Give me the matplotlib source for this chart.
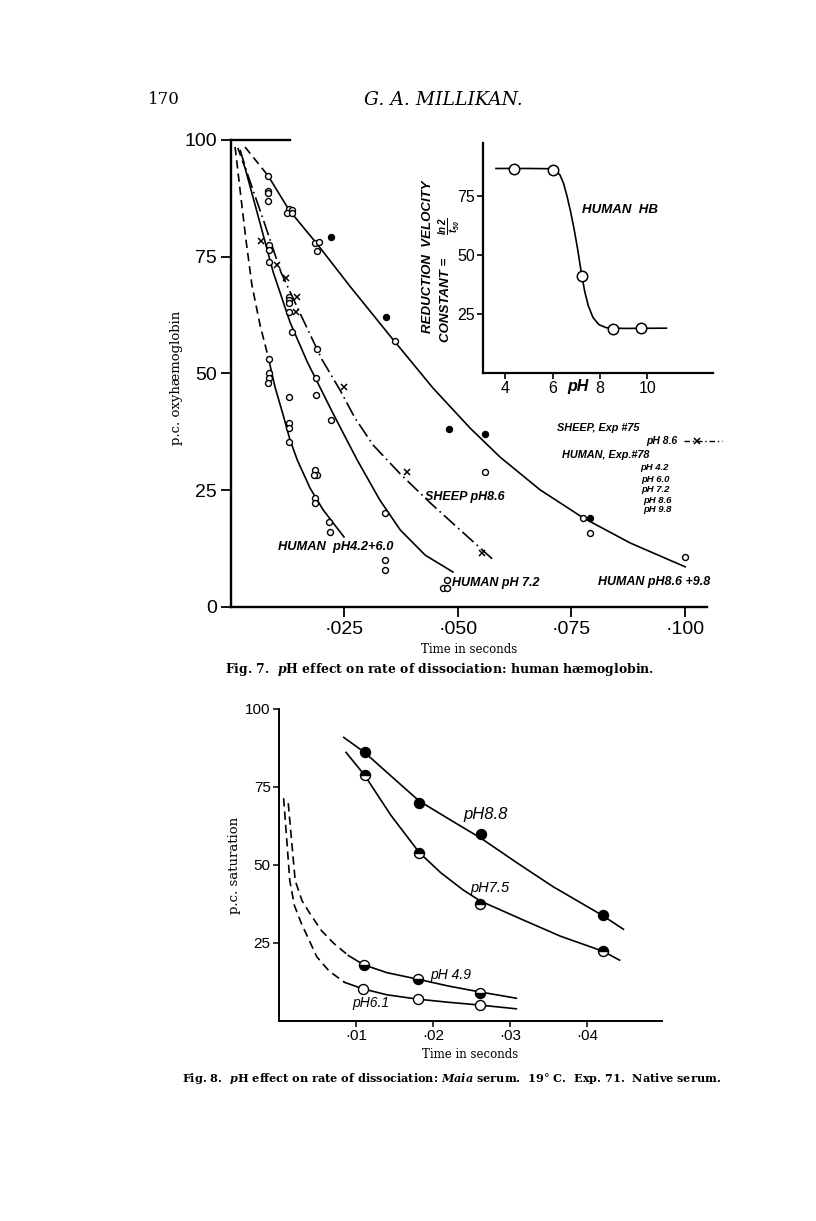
import matplotlib
matplotlib.use("Agg")
import matplotlib.pyplot as plt
from matplotlib.lines import Line2D

plt.rcParams["mathtext.fontset"] = "custom"
plt.rcParams["mathtext.it"] = "DejaVu Serif:italic:bold"
plt.rcParams["mathtext.rm"] = "DejaVu Serif:bold"
plt.rcParams["mathtext.bf"] = "DejaVu Serif:bold"
plt.rcParams["mathtext.sf"] = "Liberation Sans:italic:bold"

W, H = 816, 1221
fig = plt.figure(figsize=(W/100, H/100), dpi=100)
fig.patch.set_facecolor("white")

def P(px, py):
    return px / W, 1 - py / H

# ---------------- Fig. 7 data ----------------
x_ticks7 = [0.025, 0.050, 0.075, 0.100]
x_labels7 = ["·025", "·050", "·075", "·100"]
y_ticks7 = [0, 25, 50, 75, 100]
y_labels7 = ["0", "25", "50", "75", "100"]

# observed points
h42_t = [0.0084, 0.0084, 0.0084, 0.0082, 0.0128, 0.0128, 0.0128, 0.0128, 0.0185, 0.0190, 0.0183, 0.0185, 0.0185, 0.0216, 0.0218]
h42_y = [53.1, 50.1, 49.0, 48.0, 45.0, 39.4, 38.3, 35.3, 29.3, 28.3, 28.3, 23.3, 22.3, 18.2, 16.1]

h72_t = [0.0084, 0.0084, 0.0084, 0.0128, 0.0128, 0.0128, 0.0128, 0.0134, 0.0190, 0.0187, 0.0187, 0.0220, 0.0340, 0.0340, 0.0340, 0.0476, 0.0467, 0.0476]
h72_y = [77.5, 76.4, 73.9, 66.4, 65.7, 65.1, 63.2, 58.9, 55.2, 49.0, 45.4, 40.0, 20.1, 10.1, 7.9, 5.8, 4.1, 4.1]

h86_t = [0.0082, 0.0082, 0.0082, 0.0082, 0.0128, 0.0134, 0.0123, 0.0134, 0.0185, 0.0194, 0.0190, 0.0362, 0.0560, 0.0776, 0.0791, 0.1001]
h86_y = [92.3, 89.1, 88.7, 87.0, 85.2, 85.0, 84.4, 84.4, 77.9, 78.2, 76.2, 57.0, 28.9, 19.1, 15.8, 10.7]

h98_t = [0.0220, 0.0342, 0.0481, 0.0560, 0.0791]
h98_y = [79.2, 62.1, 38.1, 37.0, 19.1]

sheep_t = [0.0066, 0.0101, 0.0121, 0.0146, 0.0143, 0.0249, 0.0388, 0.0553]
sheep_y = [78.4, 73.2, 70.4, 66.4, 63.2, 47.1, 28.9, 11.6]

# hand-drawn curves
c1_dash_t = [0.0009, 0.0020, 0.0033, 0.0046, 0.0064, 0.0082]
c1_dash_y = [98.5, 89.3, 78.6, 69.0, 60.4, 53.5]
c1_t = [0.0082, 0.0097, 0.0115, 0.0130, 0.0146, 0.0174, 0.0203, 0.0249]
c1_y = [53.5, 47.1, 41.1, 35.8, 31.5, 25.5, 20.8, 15.0]

c2_dash_t = [0.0015, 0.0031]
c2_dash_y = [98.3, 94.0]
c2_t = [0.0031, 0.0062, 0.0093, 0.0130, 0.0168, 0.0223, 0.0278, 0.0328, 0.0373, 0.0428, 0.0489]
c2_y = [94.0, 82.9, 71.7, 61.0, 52.5, 41.8, 31.5, 22.9, 16.5, 11.1, 7.5]

cs_t = [0.0020, 0.0035, 0.0073, 0.0110, 0.0157, 0.0201, 0.0240, 0.0273, 0.0313, 0.0373, 0.0439, 0.0505, 0.0578]
cs_y = [97.9, 93.1, 82.4, 71.7, 61.9, 52.9, 46.5, 40.5, 34.7, 28.5, 22.3, 16.5, 10.1]

c3_dash_t = [0.0031, 0.0082]
c3_dash_y = [98.5, 92.3]
c3_t = [0.0082, 0.0128, 0.0190, 0.0262, 0.0351, 0.0445, 0.0527, 0.0593, 0.0681, 0.0776, 0.0880, 0.1001]
c3_y = [92.3, 85.0, 77.7, 68.7, 58.0, 46.9, 38.3, 32.1, 25.1, 19.1, 13.7, 8.6]

# inset: velocity constant vs pH
inset_ph = [4.38, 6.0, 7.23, 8.54, 9.71]
inset_k = [86.4, 86.0, 41.0, 18.6, 18.9]
inset_curve_ph = [3.6, 5.0, 5.8, 6.05, 6.3, 6.45, 6.6, 6.75, 6.9, 7.05, 7.15, 7.23, 7.35, 7.5, 7.7, 7.95, 8.26, 9.0, 10.8]
inset_curve_k = [86.7, 86.7, 86.6, 86.2, 84.0, 80.5, 75.0, 68.5, 61.0, 52.5, 46.0, 41.1, 34.5, 28.5, 23.5, 20.5, 19.2, 18.9, 19.0]
inset_xticks = [4, 6, 8, 10]
inset_yticks = [25, 50, 75]

# ---------------- Fig. 8 data ----------------
x_ticks8 = [0.01, 0.02, 0.03, 0.04]
x_labels8 = ["·01", "·02", "·03", "·04"]
y_ticks8 = [25, 50, 75, 100]
y_labels8 = ["25", "50", "75", "100"]

p88_t = [0.0111, 0.0182, 0.0262, 0.0420]
p88_y = [86.1, 70.0, 59.8, 34.0]
p75_t = [0.0111, 0.0182, 0.0261, 0.0420]
p75_y = [78.8, 54.0, 37.5, 22.4]
p49_t = [0.0110, 0.0180, 0.0261]
p49_y = [18.0, 13.4, 9.1]
p61_t = [0.0109, 0.0180, 0.0261]
p61_y = [10.3, 7.0, 5.1]

c88_t = [0.0084, 0.0111, 0.0150, 0.0182, 0.0220, 0.0262, 0.0310, 0.0356, 0.0420, 0.0447]
c88_y = [90.9, 86.1, 77.5, 70.5, 64.8, 58.6, 50.5, 43.0, 33.8, 29.4]
c75_t = [0.0087, 0.0111, 0.0145, 0.0182, 0.0210, 0.0239, 0.0261, 0.0313, 0.0365, 0.0420, 0.0442]
c75_y = [86.1, 78.8, 66.0, 54.0, 47.5, 42.0, 38.5, 32.8, 27.2, 22.4, 19.5]
c49_dash_t = [0.0012, 0.0021, 0.0030, 0.0040, 0.0055, 0.0071, 0.0090]
c49_dash_y = [69.8, 45.0, 38.5, 34.5, 29.0, 24.9, 21.0]
c49_t = [0.0090, 0.0110, 0.0140, 0.0180, 0.0220, 0.0261, 0.0308]
c49_y = [21.0, 18.0, 15.5, 13.4, 11.2, 9.3, 7.3]
c61_dash_t = [0.0006, 0.0014, 0.0020, 0.0029, 0.0049, 0.0065, 0.0085]
c61_dash_y = [71.4, 45.0, 37.0, 31.3, 20.6, 16.0, 12.4]
c61_t = [0.0085, 0.0109, 0.0140, 0.0180, 0.0220, 0.0261, 0.0308]
c61_y = [12.4, 10.3, 8.4, 7.0, 6.0, 5.1, 3.9]

# ---------------- styling helpers ----------------
SANS = "Liberation Sans"
SERIF = "DejaVu Serif"
HAND = "Liberation Sans"
LW = 1.2

def style_axes(ax, lw=1.6):
    for s in ("top", "right"):
        ax.spines[s].set_visible(False)
    for s in ("left", "bottom"):
        ax.spines[s].set_linewidth(lw)
    ax.set_facecolor("none")

# ---------------- Fig. 7 main axes ----------------
ax = fig.add_axes([231/W, 1-607/H, (707-231)/W, (607-140)/H])
style_axes(ax, 1.7)
ax.set_xlim(0, 0.1049)
ax.set_ylim(0, 100)
ax.set_xticks(x_ticks7)
ax.set_xticklabels(x_labels7, fontsize=14, family=SANS)
ax.set_yticks(y_ticks7)
ax.set_yticklabels(y_labels7, fontsize=14, family=SANS)
ax.tick_params(axis="both", direction="out", length=7, width=1.3, pad=3)
ax.plot([0, 0.0130], [100, 100], color="black", lw=1.7, clip_on=False)

ax.plot(c1_dash_t, c1_dash_y, color="black", lw=LW, ls=(0, (5, 3)))
ax.plot(c1_t, c1_y, color="black", lw=LW)
ax.plot(c2_dash_t, c2_dash_y, color="black", lw=LW, ls=(0, (5, 3)))
ax.plot(c2_t, c2_y, color="black", lw=LW)
ax.plot(cs_t, cs_y, color="black", lw=LW, ls=(0, (9, 2.5, 1, 2.5)))
ax.plot(c3_dash_t, c3_dash_y, color="black", lw=LW, ls=(0, (5, 3)))
ax.plot(c3_t, c3_y, color="black", lw=LW)

mk = dict(ls="none", marker="o", ms=4.3, mew=1.0, mec="black", clip_on=False)
ax.plot(h42_t, h42_y, mfc="white", **mk)
ax.plot(h72_t, h72_y, mfc="white", **mk)
ax.plot(h86_t, h86_y, mfc="white", **mk)
ax.plot(h98_t, h98_y, mfc="black", **mk)
ax.plot(sheep_t, sheep_y, ls="none", marker="x", ms=5, mew=1.1, color="black")

ax.set_ylabel("p.c. oxyhæmoglobin", family=SERIF, fontsize=9.5)
ax.yaxis.set_label_coords(-0.100, 0.49)
ax.set_xlabel("Time in seconds", family=SERIF, fontsize=8.5, labelpad=4)

hand = dict(family=HAND, style="italic", weight="bold", va="center", ha="left")
fig.text(*P(278, 547), "HUMAN  pH4.2+6.0", fontsize=9.3, **hand)
fig.text(*P(425, 497), "SHEEP pH8.6", fontsize=9, **hand)
fig.text(*P(452, 583), "HUMAN pH 7.2", fontsize=9, **hand)
fig.text(*P(598, 582), "HUMAN pH8.6 +9.8", fontsize=9, **hand)
fig.text(*P(557, 428), "SHEEP, Exp #75", fontsize=7.8, **hand)
fig.text(*P(646, 441), "pH 8.6", fontsize=7.5, **hand)
fig.add_artist(Line2D([684/W, 722/W], [1-441/H, 1-441/H], color="black", lw=1.0,
                      ls=(0, (4, 2, 1, 2)), transform=fig.transFigure))
fig.add_artist(Line2D([697/W], [1-441/H], color="black", marker="x", ms=5, mew=1.1,
                      ls="none", transform=fig.transFigure))
fig.text(*P(562, 455), "HUMAN, Exp.#78", fontsize=7.8, **hand)
for lab, yy, xx in [("pH 4.2", 467, 640), ("pH 6.0", 479, 641), ("pH 7.2", 490, 641),
                    ("pH 8.6", 500, 643), ("pH 9.8", 510, 643)]:
    fig.text(*P(xx, yy), lab, fontsize=6.8, **hand)

# ---------------- inset ----------------
ai = fig.add_axes([483/W, 1-373/H, 230/W, 230/H])
style_axes(ai, 1.6)
ai.set_xlim(3.05, 12.77)
ai.set_ylim(0, 97.5)
ai.set_xticks(inset_xticks)
ai.set_xticklabels([str(v) for v in inset_xticks], fontsize=11.5, family=SANS)
ai.set_yticks(inset_yticks)
ai.set_yticklabels([str(v) for v in inset_yticks], fontsize=11.5, family=SANS)
ai.tick_params(axis="both", direction="out", length=4, width=1.2, pad=2)
ai.plot(inset_curve_ph, inset_curve_k, color="black", lw=LW)
ai.plot(inset_ph, inset_k, ls="none", marker="o", ms=7.5, mfc="white", mec="black", mew=1.1)
fig.text(*P(582, 210), "HUMAN  HB", fontsize=9.5, **hand)
fig.text(*P(578, 386), "pH", fontsize=11.5, family=HAND, style="italic", weight="bold",
         ha="center", va="center")
fig.text(*P(428, 257), "REDUCTION  VELOCITY", fontsize=9.5, family=HAND, style="italic",
         weight="bold", rotation=90, ha="center", va="center")
fig.text(*P(446, 300), "CONSTANT =", fontsize=9.5, family=HAND, style="italic",
         weight="bold", rotation=90, ha="center", va="center")
fig.text(*P(449, 226), r"$\frac{\mathsf{ln\,2}}{\mathsf{t}_{\mathsf{50}}}$", fontsize=10,
         rotation=90, ha="center", va="center")

# ---------------- Fig. 8 axes ----------------
bx = fig.add_axes([279/W, 1-1021/H, 383/W, 312/H])
style_axes(bx, 1.4)
bx.set_xlim(0, 0.0497)
bx.set_ylim(0, 100)
bx.set_xticks(x_ticks8)
bx.set_xticklabels(x_labels8, fontsize=11, family=SANS)
bx.set_yticks(y_ticks8)
bx.set_yticklabels(y_labels8, fontsize=11, family=SANS)
bx.tick_params(axis="both", direction="out", length=4, width=1.1, pad=2)

bx.plot(c88_t, c88_y, color="black", lw=LW)
bx.plot(c75_t, c75_y, color="black", lw=LW)
bx.plot(c49_dash_t, c49_dash_y, color="black", lw=LW, ls=(0, (5, 3)))
bx.plot(c49_t, c49_y, color="black", lw=LW)
bx.plot(c61_dash_t, c61_dash_y, color="black", lw=LW, ls=(0, (5, 3)))
bx.plot(c61_t, c61_y, color="black", lw=LW)

mk8 = dict(ls="none", marker="o", ms=7.2, mew=1.0, mec="black")
bx.plot(p88_t, p88_y, mfc="black", **mk8)
bx.plot(p75_t, p75_y, mfc="black", fillstyle="top", markerfacecoloralt="white", **mk8)
bx.plot(p49_t, p49_y, mfc="black", fillstyle="bottom", markerfacecoloralt="white", **mk8)
bx.plot(p61_t, p61_y, mfc="white", **mk8)

bx.set_ylabel("p.c. saturation", family=SERIF, fontsize=9.5)
bx.yaxis.set_label_coords(-0.100, 0.50)
bx.set_xlabel("Time in seconds", family=SERIF, fontsize=8.5, labelpad=3)

hand8 = dict(family=HAND, style="italic", va="center", ha="left")
fig.text(*P(463, 815), "pH8.8", fontsize=12, **hand8)
fig.text(*P(470, 888), "pH7.5", fontsize=10.5, **hand8)
fig.text(*P(430, 975), "pH 4.9", fontsize=10, **hand8)
fig.text(*P(352, 1003), "pH6.1", fontsize=10, **hand8)

# ---------------- page text ----------------
fig.text(*P(164, 100), "170", family=SERIF, fontsize=12, ha="center", va="center")
fig.text(*P(443, 100), "G. A. MILLIKAN.", family=SERIF, style="italic", fontsize=13.5,
         ha="center", va="center")
fig.text(*P(440, 670), r"Fig. 7.  $p$H effect on rate of dissociation: human hæmoglobin.",
         family=SERIF, weight="bold", fontsize=8.9, ha="center", va="center")
fig.text(*P(452, 1078),
         r"Fig. 8.  $p$H effect on rate of dissociation: $Maia$ serum.  19° C.  Exp. 71.  Native serum.",
         family=SERIF, weight="bold", fontsize=8.1, ha="center", va="center")

fig.savefig("out.png", dpi=100, facecolor="white")
